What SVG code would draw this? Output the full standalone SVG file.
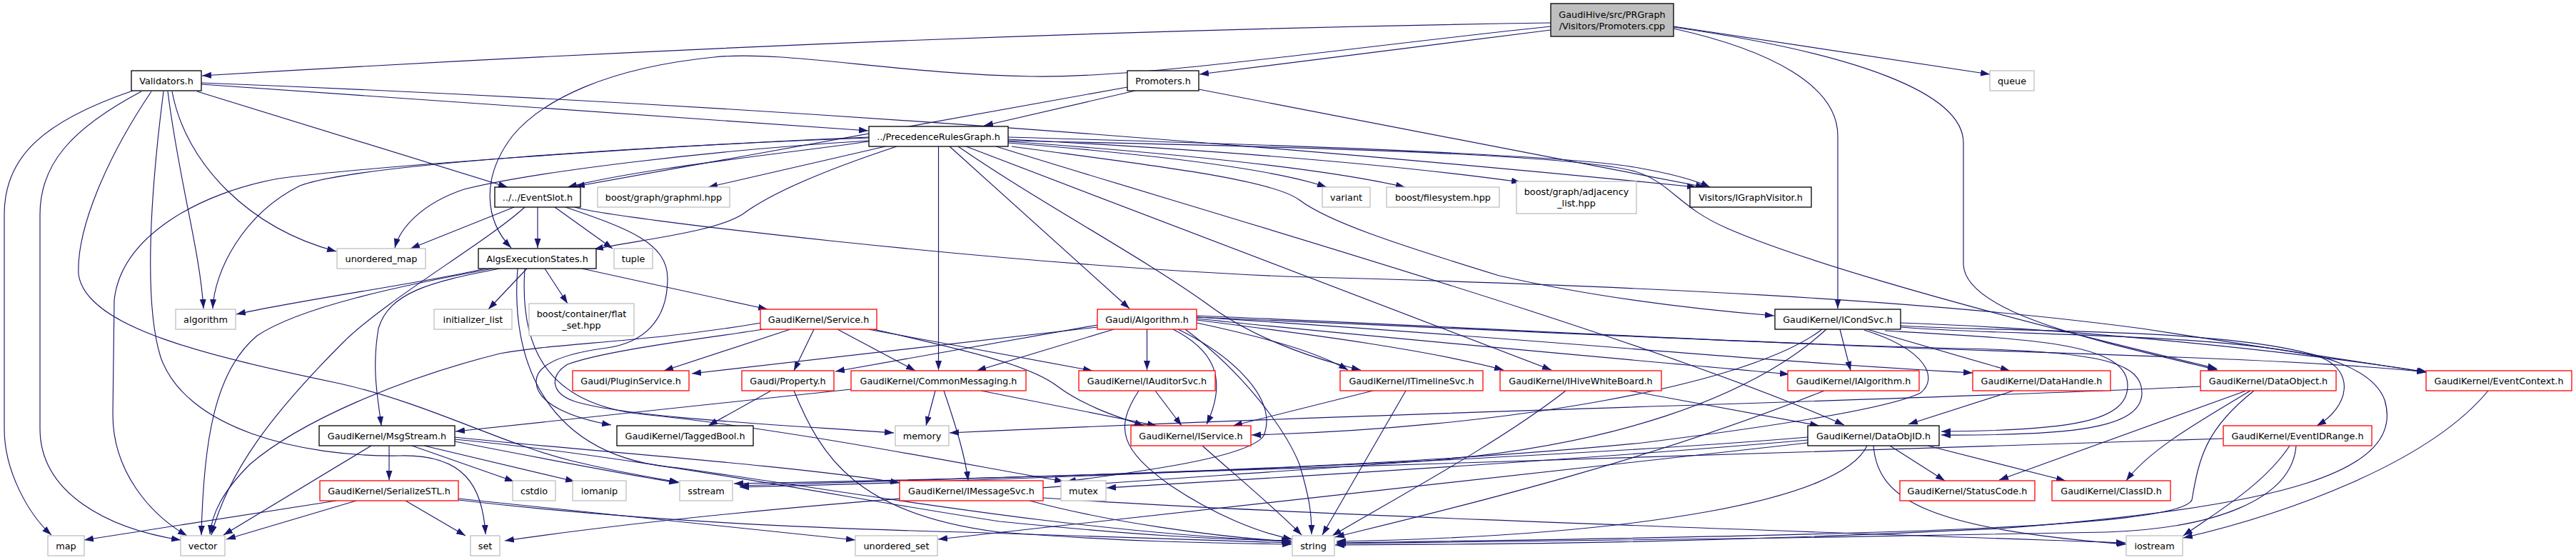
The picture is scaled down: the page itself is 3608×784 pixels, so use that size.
<svg xmlns="http://www.w3.org/2000/svg" width="3608" height="784" viewBox="0 0 3608 784">
<style>
text{font-family:"DejaVu Sans","Liberation Sans",sans-serif;font-size:12.8px;text-anchor:middle;fill:#000}
.n rect{fill:#fff;stroke-width:1.3}
.k rect{stroke:#000}
.g rect{stroke:#bfbfbf}
.r rect{stroke:#ff0000}
.root rect{fill:#bfbfbf;stroke:#000}
#edges path{fill:none;stroke:#191970;stroke-width:1.15;marker-end:url(#a)}
</style>
<defs>
<marker id="a" markerUnits="userSpaceOnUse" markerWidth="14" markerHeight="10" refX="13" refY="5" orient="auto"><path d="M0,0.5 L13,5 L0,9.5 z" fill="#191970"/></marker>
</defs>
<rect width="3608" height="784" fill="#fff"/>
<g id="edges">
<path d="M2172,32 Q1300,45 283,106"/>
<path d="M2172,42 L1680,104"/>
<path d="M2172,37 C1900,65 1600,110 1445,107 C1250,103 1100,70 1000,80 C850,95 760,140 718,190 C672,250 680,310 716,347"/>
<path d="M2344,37 L2787,104"/>
<path d="M2344,40 C2480,70 2574,120 2574,190 L2574,432"/>
<path d="M2344,38 C2600,75 2750,130 2750,200 L2750,370 C2752,440 2950,480 3106,518"/>
<path d="M282,118 L1216,183"/>
<path d="M282,116 Q1300,155 2376,262"/>
<path d="M276,128 L711,262"/>
<path d="M241,128 C260,230 350,320 471,352"/>
<path d="M235,128 C250,250 280,350 285,432"/>
<path d="M186,127 C60,170 6,220 6,300 L6,600 C6,660 40,720 72,749"/>
<path d="M198,128 C100,180 56,230 56,300 L56,600 C56,690 150,740 253,756"/>
<path d="M229,128 C212,260 200,420 225,500 C260,600 420,640 560,638 C650,636 676,680 680,748"/>
<path d="M212,128 C150,220 107,320 110,384 C120,460 300,500 476,537 C600,565 700,620 800,645 C870,662 910,668 951,675"/>
<path d="M1590,127 L1378,176"/>
<path d="M1679,125 L2388,262"/>
<path d="M1579,122 L806,261"/>
<path d="M1217,198 C1100,215 900,235 795,262"/>
<path d="M1240,205 L992,262"/>
<path d="M1217,197 C1000,210 750,240 650,265 C590,285 560,320 553,347"/>
<path d="M1217,193 C900,205 500,230 420,260 C340,300 300,380 298,432"/>
<path d="M1217,192 C900,205 500,235 390,250 C280,270 170,330 160,420 L158,580 C158,660 210,720 262,750"/>
<path d="M1256,205 C1150,240 1080,270 1040,300 C1000,325 900,335 832,349"/>
<path d="M1314.5,205 L1314.5,518"/>
<path d="M1330,205 L1582,432"/>
<path d="M1412,200 C1600,215 1780,235 1858,262"/>
<path d="M1412,198 C1650,215 1850,235 1968,262"/>
<path d="M1412,195 C1700,210 1950,230 2130,255"/>
<path d="M1412,192 C1700,200 2200,215 2300,236 C2350,245 2380,255 2395,262"/>
<path d="M1417,205 C1600,230 1780,250 1820,280 C1860,310 1950,340 2100,386 C2250,420 2400,435 2485,442"/>
<path d="M1342,205 C1450,280 1600,360 1690,425 C1750,470 1830,500 1906,518"/>
<path d="M1353,205 L2173,518"/>
<path d="M1412,197 C1800,205 2200,215 2290,240 C2340,255 2350,290 2420,320 C2500,355 2700,420 3105,516"/>
<path d="M1395,205 C1700,300 2300,470 2583,595"/>
<path d="M720,290 L575,348"/>
<path d="M753,290 L753,347"/>
<path d="M777,290 L858,348"/>
<path d="M735,290 C680,340 540,420 480,480 C380,580 320,660 296,749"/>
<path d="M805,290 C850,305 1400,370 1800,387 C2300,400 2700,420 3000,460 C3200,490 3330,510 3398,521"/>
<path d="M792,290 C880,320 935,340 935,390 C935,450 900,480 850,487 C790,495 750,510 751,535 C752,565 800,585 856,595"/>
<path d="M815,376 L1075,433"/>
<path d="M680,376 C600,395 420,420 331,440"/>
<path d="M738,376 L684,433"/>
<path d="M763,376 L795,425"/>
<path d="M700,376 C600,395 545,410 530,460 C520,520 530,560 534,596"/>
<path d="M690,376 C560,400 420,430 360,470 C300,520 285,620 282,749"/>
<path d="M725,376 C715,500 760,640 950,655 C1200,690 1500,745 1808,758"/>
<path d="M735,376 C728,480 760,565 900,580 C1100,600 1350,650 1490,674"/>
<path d="M1107,461 L930,519"/>
<path d="M1140,461 L1112,519"/>
<path d="M1173,461 L1282,519"/>
<path d="M1216,461 L1530,519"/>
<path d="M1224,461 C1350,490 1440,510 1480,540 C1520,570 1570,585 1602,596"/>
<path d="M1066,452 C900,480 780,480 700,495 C560,530 420,590 350,650 C310,690 297,720 294,748"/>
<path d="M1069,461 C980,475 850,490 795,510 C770,525 770,550 805,562 C880,585 1100,595 1252,606"/>
<path d="M1537,458 L969,523"/>
<path d="M1537,455 L1170,520"/>
<path d="M1560,461 L1368,519"/>
<path d="M1606.5,461 L1606.5,518"/>
<path d="M1643,461 C1700,490 1720,530 1690,594"/>
<path d="M1650,461 C1730,500 1790,560 1770,610 C1750,640 1600,660 1494,674"/>
<path d="M1660,461 C1740,520 1800,600 1820,650 C1835,700 1837,720 1837,748"/>
<path d="M1676,452 C1760,470 1840,490 1888,518"/>
<path d="M1676,448 C1850,470 2000,490 2106,518"/>
<path d="M1676,446 C1900,470 2300,505 2506,524"/>
<path d="M1676,444 C2100,470 2450,505 2763,522"/>
<path d="M1676,444 C2100,462 2500,482 2750,488 C2950,492 3000,510 3000,550 C3000,600 2900,610 2719,609"/>
<path d="M1676,442 C2000,455 2400,478 2700,488 C3000,498 3250,505 3398,521"/>
<path d="M2577,461 L2592,519"/>
<path d="M2615,461 L2815,519"/>
<path d="M2640,463 C2850,475 2980,480 2980,540 C2980,590 2900,603 2719,604"/>
<path d="M2552,461 C2450,540 2100,600 1753,609"/>
<path d="M2558,461 C2450,560 2250,625 2000,645 C1600,675 1100,700 707,757"/>
<path d="M2611,462 C2700,490 2715,530 2690,550 C2650,570 2500,595 2300,620 C1900,660 1300,672 1028,677"/>
<path d="M2662,452 C2900,460 3200,490 3400,521"/>
<path d="M2662,458 C2800,470 3100,465 3250,500 C3300,520 3290,570 3245,596"/>
<path d="M2662,456 C2900,470 3300,450 3340,560 C3370,660 3200,710 2800,740 C2400,760 2100,762 1870,763"/>
<path d="M2820,547 L2673,594"/>
<path d="M3082,541 C2700,560 2000,575 1330,606"/>
<path d="M3146,547 L2800,672"/>
<path d="M3152,547 C3080,590 3010,630 2978,673"/>
<path d="M3157,547 C3090,600 3080,640 3070,700 C3050,740 2600,750 1872,760"/>
<path d="M3207,624 C3170,680 3100,720 3058,750"/>
<path d="M3216,624 C3210,700 3100,740 2950,745 C2600,752 2200,758 1872,761"/>
<path d="M3114,614 C2700,632 1800,655 1036,680"/>
<path d="M3485,547 C3400,650 3200,720 3058,753"/>
<path d="M1684,624 C1730,665 1790,715 1823,749"/>
<path d="M1310,547 L1297,596"/>
<path d="M1322,547 C1340,600 1352,640 1356,673"/>
<path d="M1374,547 L1620,596"/>
<path d="M1192,545 L638,604"/>
<path d="M1080,547 L992,596"/>
<path d="M1112,547 C1150,640 1200,720 1400,745 C1600,760 1700,760 1809,762"/>
<path d="M1618,547 L1655,596"/>
<path d="M1595,547 C1560,600 1570,630 1640,680 C1700,720 1760,745 1810,755"/>
<path d="M1923,547 L1727,596"/>
<path d="M1969,547 L1852,749"/>
<path d="M2282,547 L2548,596"/>
<path d="M2193,547 C2100,620 1950,700 1866,750"/>
<path d="M2555,547 C2300,650 2000,720 1870,752"/>
<path d="M2615,624 C2580,700 2300,750 1872,758"/>
<path d="M2624,624 C2630,700 2700,740 2978,762"/>
<path d="M2647,624 L2724,673"/>
<path d="M2700,624 L2893,673"/>
<path d="M2532,612 C2200,640 1500,670 1036,682"/>
<path d="M2532,616 C2200,645 1800,668 1550,683"/>
<path d="M2532,620 C2200,660 1800,700 1314,755"/>
<path d="M1442,701 C1550,730 1700,752 1809,758"/>
<path d="M1461,697 C1800,720 2400,740 2977,760"/>
<path d="M545,624 L545,672"/>
<path d="M577,624 L720,674"/>
<path d="M594,624 L805,674"/>
<path d="M520,624 L313,749"/>
<path d="M637,618 C750,640 880,665 950,676"/>
<path d="M637,612 C800,630 1100,650 1260,676"/>
<path d="M637,615 C900,640 1200,700 1400,730 C1600,750 1700,755 1808,757"/>
<path d="M471,701 L118,756"/>
<path d="M499,701 L317,755"/>
<path d="M568,701 L652,750"/>
<path d="M642,698 L1198,756"/>
<path d="M642,700 C900,730 1150,740 1350,745 C1550,752 1700,757 1809,760"/>
</g>
<g id="nodes">
<g id="n0" class="n root"><rect x="2172" y="5" width="172" height="46"/><text x="2258" y="24.5">GaudiHive/src/PRGraph</text><text x="2258" y="40.5">/Visitors/Promoters.cpp</text></g>
<g id="n1" class="n k"><rect x="184" y="99" width="98" height="28"/><text x="233" y="117.6">Validators.h</text></g>
<g id="n2" class="n k"><rect x="1579" y="99" width="100" height="28"/><text x="1629" y="117.6">Promoters.h</text></g>
<g id="n3" class="n g"><rect x="2787" y="99" width="62" height="28"/><text x="2818" y="117.6">queue</text></g>
<g id="n4" class="n k"><rect x="1217" y="177" width="195" height="28"/><text x="1314.5" y="195.6">../PrecedenceRulesGraph.h</text></g>
<g id="n5" class="n k"><rect x="693" y="262" width="120" height="28"/><text x="753" y="280.6">../../EventSlot.h</text></g>
<g id="n6" class="n g"><rect x="837" y="262" width="185" height="28"/><text x="929.5" y="280.6">boost/graph/graphml.hpp</text></g>
<g id="n7" class="n g"><rect x="1852" y="262" width="67" height="28"/><text x="1885.5" y="280.6">variant</text></g>
<g id="n8" class="n g"><rect x="1942" y="262" width="158" height="28"/><text x="2021" y="280.6">boost/filesystem.hpp</text></g>
<g id="n9" class="n g"><rect x="2124" y="254" width="168" height="45"/><text x="2208" y="272.5">boost/graph/adjacency</text><text x="2208" y="288.5">_list.hpp</text></g>
<g id="n10" class="n k"><rect x="2367" y="262" width="170" height="28"/><text x="2452" y="280.6">Visitors/IGraphVisitor.h</text></g>
<g id="n11" class="n g"><rect x="472" y="348" width="124" height="28"/><text x="534" y="366.6">unordered_map</text></g>
<g id="n12" class="n k"><rect x="670" y="348" width="165" height="28"/><text x="752.5" y="366.6">AlgsExecutionStates.h</text></g>
<g id="n13" class="n g"><rect x="860" y="348" width="54" height="28"/><text x="887" y="366.6">tuple</text></g>
<g id="n14" class="n g"><rect x="246" y="433" width="84" height="28"/><text x="288" y="451.6">algorithm</text></g>
<g id="n15" class="n g"><rect x="608" y="433" width="109" height="28"/><text x="662.5" y="451.6">initializer_list</text></g>
<g id="n16" class="n g"><rect x="741" y="425" width="147" height="45"/><text x="814.5" y="443.5">boost/container/flat</text><text x="814.5" y="459.5">_set.hpp</text></g>
<g id="n17" class="n r"><rect x="1065" y="433" width="163" height="28"/><text x="1146.5" y="451.6">GaudiKernel/Service.h</text></g>
<g id="n18" class="n r"><rect x="1537" y="433" width="139" height="28"/><text x="1606.5" y="451.6">Gaudi/Algorithm.h</text></g>
<g id="n19" class="n k"><rect x="2486" y="433" width="176" height="28"/><text x="2574" y="451.6">GaudiKernel/ICondSvc.h</text></g>
<g id="n20" class="n r"><rect x="802" y="519" width="163" height="28"/><text x="883.5" y="537.6">Gaudi/PluginService.h</text></g>
<g id="n21" class="n r"><rect x="1039" y="519" width="129" height="28"/><text x="1103.5" y="537.6">Gaudi/Property.h</text></g>
<g id="n22" class="n r"><rect x="1192" y="519" width="245" height="28"/><text x="1314.5" y="537.6">GaudiKernel/CommonMessaging.h</text></g>
<g id="n23" class="n r"><rect x="1511" y="519" width="191" height="28"/><text x="1606.5" y="537.6">GaudiKernel/IAuditorSvc.h</text></g>
<g id="n24" class="n r"><rect x="1877" y="519" width="200" height="28"/><text x="1977" y="537.6">GaudiKernel/ITimelineSvc.h</text></g>
<g id="n25" class="n r"><rect x="2101" y="519" width="226" height="28"/><text x="2214" y="537.6">GaudiKernel/IHiveWhiteBoard.h</text></g>
<g id="n26" class="n r"><rect x="2504" y="519" width="184" height="28"/><text x="2596" y="537.6">GaudiKernel/IAlgorithm.h</text></g>
<g id="n27" class="n r"><rect x="2763" y="519" width="193" height="28"/><text x="2859.5" y="537.6">GaudiKernel/DataHandle.h</text></g>
<g id="n28" class="n r"><rect x="3082" y="519" width="190" height="28"/><text x="3177" y="537.6">GaudiKernel/DataObject.h</text></g>
<g id="n29" class="n r"><rect x="3398" y="519" width="204" height="28"/><text x="3500" y="537.6">GaudiKernel/EventContext.h</text></g>
<g id="n30" class="n k"><rect x="447" y="596" width="190" height="28"/><text x="542" y="614.6">GaudiKernel/MsgStream.h</text></g>
<g id="n31" class="n k"><rect x="864" y="596" width="191" height="28"/><text x="959.5" y="614.6">GaudiKernel/TaggedBool.h</text></g>
<g id="n32" class="n g"><rect x="1254" y="596" width="75" height="28"/><text x="1291.5" y="614.6">memory</text></g>
<g id="n33" class="n r"><rect x="1584" y="596" width="168" height="28"/><text x="1668" y="614.6">GaudiKernel/IService.h</text></g>
<g id="n34" class="n k"><rect x="2532" y="596" width="184" height="28"/><text x="2624" y="614.6">GaudiKernel/DataObjID.h</text></g>
<g id="n35" class="n r"><rect x="3114" y="596" width="208" height="28"/><text x="3218" y="614.6">GaudiKernel/EventIDRange.h</text></g>
<g id="n36" class="n r"><rect x="448" y="673" width="194" height="28"/><text x="545" y="691.6">GaudiKernel/SerializeSTL.h</text></g>
<g id="n37" class="n g"><rect x="718" y="673" width="60" height="28"/><text x="748" y="691.6">cstdio</text></g>
<g id="n38" class="n g"><rect x="802" y="673" width="75" height="28"/><text x="839.5" y="691.6">iomanip</text></g>
<g id="n39" class="n g"><rect x="952" y="673" width="74" height="28"/><text x="989" y="691.6">sstream</text></g>
<g id="n40" class="n r"><rect x="1260" y="673" width="201" height="28"/><text x="1360.5" y="691.6">GaudiKernel/IMessageSvc.h</text></g>
<g id="n41" class="n g"><rect x="1486" y="673" width="63" height="28"/><text x="1517.5" y="691.6">mutex</text></g>
<g id="n42" class="n r"><rect x="2661" y="673" width="189" height="28"/><text x="2755.5" y="691.6">GaudiKernel/StatusCode.h</text></g>
<g id="n43" class="n r"><rect x="2874" y="673" width="166" height="28"/><text x="2957" y="691.6">GaudiKernel/ClassID.h</text></g>
<g id="n44" class="n g"><rect x="67" y="750" width="51" height="28"/><text x="92.5" y="768.6">map</text></g>
<g id="n45" class="n g"><rect x="253" y="750" width="62" height="28"/><text x="284" y="768.6">vector</text></g>
<g id="n46" class="n g"><rect x="659" y="750" width="41" height="28"/><text x="679.5" y="768.6">set</text></g>
<g id="n47" class="n g"><rect x="1198" y="750" width="115" height="28"/><text x="1255.5" y="768.6">unordered_set</text></g>
<g id="n48" class="n g"><rect x="1810" y="750" width="59" height="28"/><text x="1839.5" y="768.6">string</text></g>
<g id="n49" class="n g"><rect x="2978" y="750" width="79" height="28"/><text x="3017.5" y="768.6">iostream</text></g>
</g>
</svg>
